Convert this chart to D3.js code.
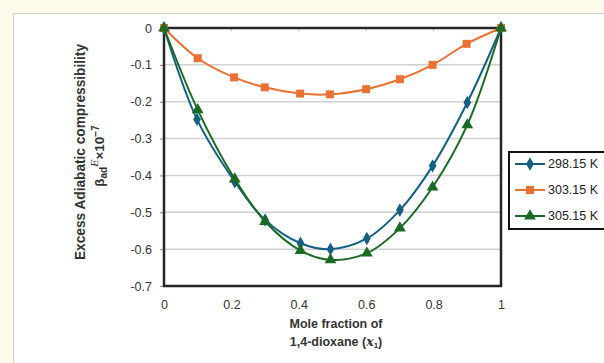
<!DOCTYPE html>
<html>
<head>
<meta charset="utf-8">
<script src="https://cdn.jsdelivr.net/npm/d3@7"></script>
<style>
  body { margin: 0; background: #fefbea; }
  svg { display: block; font-family: "Liberation Sans", Arial, sans-serif; }
</style>
</head>
<body>
<svg id="chart" width="604" height="363"></svg>
<script>
// values
var xTicks = [0, 0.2, 0.4, 0.6, 0.8, 1];
var yTicks = [0, -0.1, -0.2, -0.3, -0.4, -0.5, -0.6, -0.7];
var seriesNames = ["298.15 K", "303.15 K", "305.15 K"];

var x298 = [0, 0.098, 0.21, 0.30, 0.405, 0.494, 0.602, 0.70, 0.797, 0.90, 1];
var y298 = [0, -0.248, -0.417, -0.521, -0.584, -0.600, -0.571, -0.494, -0.374, -0.202, 0];

var x303 = [0, 0.10, 0.208, 0.299, 0.404, 0.492, 0.60, 0.70, 0.797, 0.898, 1];
var y303 = [0, -0.082, -0.134, -0.161, -0.178, -0.180, -0.166, -0.139, -0.100, -0.043, 0];

var x305 = [0, 0.10, 0.21, 0.30, 0.405, 0.494, 0.602, 0.70, 0.797, 0.90, 1];
var y305 = [0, -0.222, -0.410, -0.525, -0.604, -0.629, -0.611, -0.543, -0.432, -0.263, 0];

var colors = ["#156082", "#e97132", "#196b24"];

var svg = d3.select("#chart");

// white chart panel
svg.append("rect").attr("x", 13.5).attr("y", 13.5).attr("width", 620).attr("height", 400)
  .attr("fill", "#fff").attr("stroke", "#d0d0d0").attr("stroke-width", 1);

var pLeft = 164, pRight = 501, pTop = 28, pBottom = 286;
var x = d3.scaleLinear().domain([0, 1]).range([pLeft, pRight]);
var y = d3.scaleLinear().domain([-0.7, 0]).range([pBottom, pTop]);

// gridlines
svg.append("g").selectAll("line").data(yTicks).enter().append("line")
  .attr("x1", pLeft).attr("x2", pRight)
  .attr("y1", function(d) { return y(d); }).attr("y2", function(d) { return y(d); })
  .attr("stroke", "#d0d0d0").attr("stroke-width", 1.5);

// y axis
var yAxis = d3.axisLeft(y).tickValues(yTicks).tickSize(4).tickPadding(8)
  .tickFormat(function(d) { return String(d); });
var gy = svg.append("g").attr("transform", "translate(" + pLeft + ",0)").call(yAxis);
gy.select(".domain").remove();
gy.selectAll("line").attr("stroke", "#888");
gy.selectAll("text").attr("font-size", 12.5).attr("fill", "#333");

// x axis labels (placed low)
var xAxis = d3.axisBottom(x).tickValues(xTicks).tickSize(0).tickPadding(14)
  .tickFormat(function(d) { return String(d); });
var gx = svg.append("g").attr("transform", "translate(0," + pBottom + ")").call(xAxis);
gx.select(".domain").remove();
gx.selectAll("text").attr("font-size", 12.5).attr("fill", "#333");

// x ticks on the zero line
svg.append("g").selectAll("line").data(xTicks).enter().append("line")
  .attr("x1", function(d) { return x(d); }).attr("x2", function(d) { return x(d); })
  .attr("y1", pTop).attr("y2", pTop + 3)
  .attr("stroke", "#bbb").attr("stroke-width", 1);

// plot border
svg.append("rect").attr("x", pLeft).attr("y", pTop)
  .attr("width", pRight - pLeft).attr("height", pBottom - pTop)
  .attr("fill", "none").attr("stroke", "#262626").attr("stroke-width", 2.5);

// series
var series = [
  { xs: x298, ys: y298, sym: d3.symbolDiamond, size: 52 },
  { xs: x303, ys: y303, sym: d3.symbolSquare, size: 64 },
  { xs: x305, ys: y305, sym: d3.symbolTriangle, size: 60 }
];

var line = d3.line()
  .x(function(d) { return x(d[0]); })
  .y(function(d) { return y(d[1]); })
  .curve(d3.curveCatmullRom.alpha(0.5));

series.forEach(function(s, i) {
  var pts = d3.zip(s.xs, s.ys);
  svg.append("path").datum(pts)
    .attr("d", line).attr("fill", "none")
    .attr("stroke", colors[i]).attr("stroke-width", 2);
  svg.append("g").selectAll("path").data(pts).enter().append("path")
    .attr("d", d3.symbol().type(s.sym).size(s.size))
    .attr("transform", function(d) { return "translate(" + x(d[0]) + "," + y(d[1]) + ")"; })
    .attr("fill", colors[i]);
});

// y title
svg.append("text").attr("transform", "translate(85,152) rotate(-90)")
  .attr("text-anchor", "middle").attr("font-size", 14).attr("font-weight", "bold").attr("fill", "#333")
  .attr("textLength", 216).attr("lengthAdjust", "spacingAndGlyphs")
  .text("Excess Adiabatic compressibility");
var yt2 = svg.append("text").attr("transform", "translate(104,156) rotate(-90)")
  .attr("text-anchor", "middle").attr("font-size", 13.5).attr("font-weight", "bold").attr("fill", "#333");
yt2.append("tspan").text("β");
yt2.append("tspan").attr("font-size", 10).attr("dy", 3).text("ad");
yt2.append("tspan").attr("font-size", 10).attr("font-style", "italic").attr("font-family", "DejaVu Serif")
  .attr("font-weight", "normal").attr("dy", -9).text("E");
yt2.append("tspan").attr("dy", 6).text("×10");
yt2.append("tspan").attr("font-size", 10).attr("dy", -5).text("−7");

// x title
svg.append("text").attr("text-anchor", "middle").attr("font-size", 12.5)
  .attr("font-weight", "bold").attr("fill", "#333")
  .attr("x", 336).attr("y", 328).text("Mole fraction of");
var xt2 = svg.append("text").attr("text-anchor", "middle").attr("font-size", 12.5)
  .attr("font-weight", "bold").attr("fill", "#333").attr("x", 336).attr("y", 346);
xt2.append("tspan").text("1,4-dioxane (");
xt2.append("tspan").attr("font-style", "italic").attr("font-family", "DejaVu Serif").text("x");
xt2.append("tspan").attr("font-size", 8).attr("dy", 2).text("1");
xt2.append("tspan").attr("dy", -2).text(")");

// legend
var lg = svg.append("g").attr("transform", "translate(509,152)");
lg.append("rect").attr("width", 110).attr("height", 77)
  .attr("fill", "#fff").attr("stroke", "#111").attr("stroke-width", 2);
seriesNames.forEach(function(n, i) {
  var yy = 12 + i * 26;
  lg.append("line").attr("x1", 6).attr("x2", 36).attr("y1", yy).attr("y2", yy)
    .attr("stroke", colors[i]).attr("stroke-width", 2);
  lg.append("path").attr("d", d3.symbol().type(series[i].sym).size(series[i].size))
    .attr("transform", "translate(21," + yy + ")").attr("fill", colors[i]);
  lg.append("text").attr("x", 39).attr("y", yy + 4).attr("font-size", 12.5)
    .attr("fill", "#222").text(n);
});
</script>
</body>
</html>
